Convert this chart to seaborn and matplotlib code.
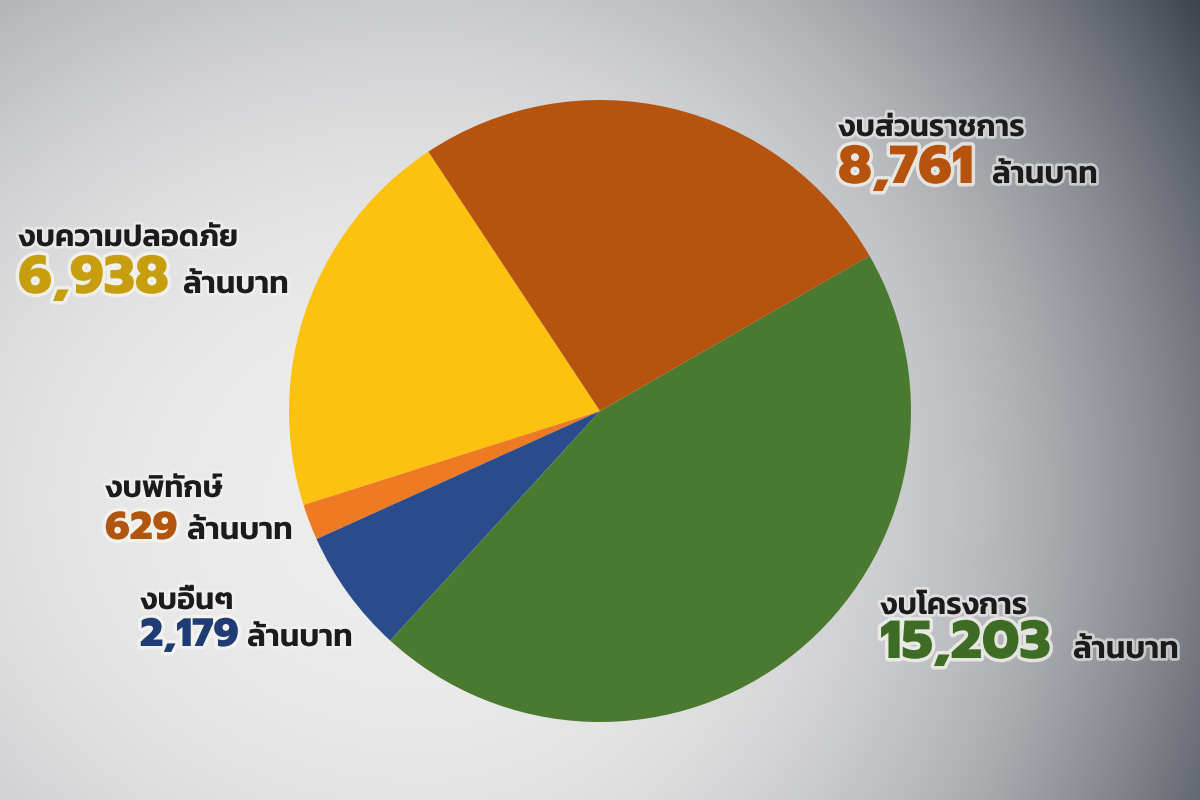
import numpy as np
import matplotlib
matplotlib.use("Agg")
import matplotlib.pyplot as plt
import matplotlib.patheffects as pe
from matplotlib import font_manager
import seaborn as sns

# Budget split (million baht), counter-clockwise from the top-left edge
labels = ["งบความปลอดภัย", "งบพิทักษ์", "งบอื่นๆ", "งบโครงการ", "งบส่วนราชการ"]
values = [6938, 629, 2179, 15203, 8761]
value_text = ["6,938", "629", "2,179", "15,203", "8,761"]
unit = "ล้านบาท"
slice_colors = ["#FDC10F", "#EE7A23", "#2A4C8D", "#4A7A2F", "#B5530F"]
number_colors = ["#C79E0E", "#B2560F", "#1F3C74", "#3E6C24", "#B5530F"]

sns.set_theme(style="white")

# pick Thai capable families
names = {f.name for f in font_manager.fontManager.ttflist}
def first_font(cands):
    for c in cands:
        if c in names:
            return c
    return "DejaVu Sans"
thai_font = first_font(["Kanit", "Prompt", "Mitr", "Noto Sans Thai", "Sarabun"])
num_font = first_font(["Prompt", "Kanit", "Mitr"])
plt.rcParams["font.family"] = [thai_font, "DejaVu Sans"]

W, H = 1200, 800
fig = plt.figure(figsize=(12, 8), dpi=100)

# grey vignette background, darker to the right
bg = fig.add_axes([0, 0, 1, 1], zorder=0)
yy, xx = np.mgrid[0:H, 0:W]
sx = np.where(xx > 420, 600.0, 750.0)
d = np.sqrt(((xx - 420) / sx) ** 2 + ((yy - 500) / 620.0) ** 2)
dark = np.clip(0.23 * d ** 2.5, 0, 0.66)
L = 0.93 - dark
img = np.dstack([L - 0.04 * dark, L - 0.01 * dark, L + 0.055 * dark])
bg.imshow(np.clip(img, 0, 1), extent=[0, W, H, 0], aspect="auto")
bg.set_xlim(0, W)
bg.set_ylim(H, 0)
bg.axis("off")

# pie
cx, cy, r = 600, 411, 311
ax = fig.add_axes([(cx - r) / W, (H - cy - r) / H, 2 * r / W, 2 * r / H], zorder=1)
ax.pie(values, colors=sns.color_palette(slice_colors), startangle=123.5,
       counterclock=True, radius=1, wedgeprops=dict(linewidth=0))
ax.set_xlim(-1, 1)
ax.set_ylim(-1, 1)
ax.set_aspect("equal")
ax.axis("off")

# label placement (pixels from top-left)
label_x = [18, 105, 140, 880, 838]
label_y = [246, 497, 609, 614, 136]
num_y = [293, 539, 646, 658, 183]
unit_x = [183, 187, 247, 1073, 992]
num_size = [38.5, 28, 28.5, 38.5, 38.5]

halo = [pe.withStroke(linewidth=4, foreground="#f4f4f4", alpha=0.6)]
for i in range(len(labels)):
    fig.text(label_x[i] / W, 1 - label_y[i] / H, labels[i], fontsize=22,
             fontweight="semibold", color="#1b1b1b", va="baseline", ha="left",
             path_effects=halo, zorder=3)
    fig.text(label_x[i] / W, 1 - num_y[i] / H, value_text[i], fontsize=num_size[i],
             family=[num_font, "DejaVu Sans"], fontweight=800,
             color=number_colors[i], va="baseline", ha="left",
             path_effects=[pe.withStroke(linewidth=5, foreground="#f6f6f0", alpha=0.75)],
             zorder=3)
    fig.text(unit_x[i] / W, 1 - num_y[i] / H, unit, fontsize=22.5,
             fontweight="semibold", color="#1b1b1b", va="baseline", ha="left",
             path_effects=halo, zorder=3)

fig.savefig("out.png", dpi=100)
